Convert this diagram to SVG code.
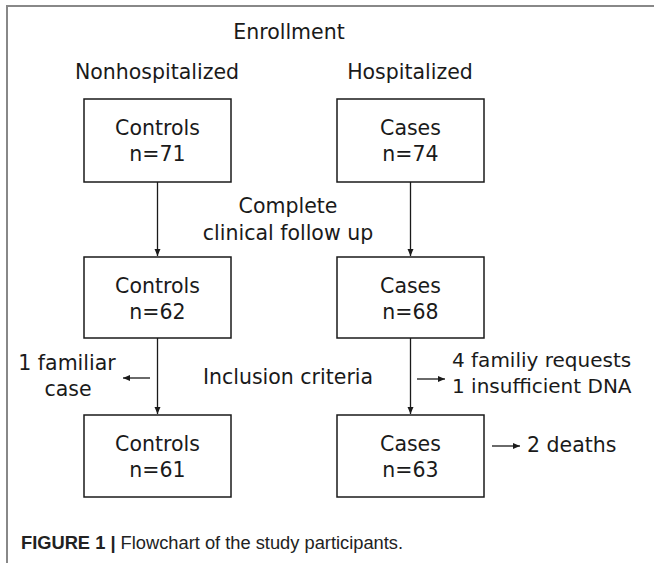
<svg xmlns="http://www.w3.org/2000/svg" width="654" height="563" viewBox="0 0 654 563">
<defs>
<marker id="ah" markerWidth="8" markerHeight="8" refX="7" refY="4" orient="auto" markerUnits="userSpaceOnUse">
<path d="M0,1 L7,4 L0,7 Z" fill="#1a1a1a"/>
</marker>
<style>
.t{font-family:"DejaVu Sans",Verdana,sans-serif;font-size:20.5px;fill:#1a1a1a}
.s{font-size:20px}
.m{text-anchor:middle}
.box{fill:#fff;stroke:#1a1a1a;stroke-width:1.5}
.ln{stroke:#1a1a1a;stroke-width:1.3;fill:none}
.cap{font-family:"Liberation Sans",Arial,sans-serif;font-size:18.3px;fill:#222}
</style>
</defs>
<rect width="654" height="563" fill="#fff"/>
<path d="M7,563 V6 H654" fill="none" stroke="#888" stroke-width="2"/>
<text class="t m" x="289" y="39">Enrollment</text>
<text class="t m" x="157" y="79">Nonhospitalized</text>
<text class="t m" x="410" y="79">Hospitalized</text>
<g id="controls1"><rect class="box" x="84" y="99" width="147" height="83"/><text class="t m" x="157.5" y="135">Controls</text><text class="t m" x="157.5" y="161">n=71</text></g>
<g id="cases1"><rect class="box" x="337" y="99" width="147" height="83"/><text class="t m" x="410.5" y="135">Cases</text><text class="t m" x="410.5" y="161">n=74</text></g>
<g id="controls2"><rect class="box" x="84" y="257" width="147" height="81"/><text class="t m" x="157.5" y="293">Controls</text><text class="t m" x="157.5" y="319">n=62</text></g>
<g id="cases2"><rect class="box" x="337" y="257" width="147" height="81"/><text class="t m" x="410.5" y="293">Cases</text><text class="t m" x="410.5" y="319">n=68</text></g>
<g id="controls3"><rect class="box" x="84" y="415" width="147" height="82"/><text class="t m" x="157.5" y="451">Controls</text><text class="t m" x="157.5" y="477">n=61</text></g>
<g id="cases3"><rect class="box" x="337" y="415" width="147" height="82"/><text class="t m" x="410.5" y="451">Cases</text><text class="t m" x="410.5" y="477">n=63</text></g>
<g id="labels">
<text class="t m" x="288" y="213">Complete</text>
<text class="t m" x="288" y="240">clinical follow up</text>
<text class="t m" x="288" y="384">Inclusion criteria</text>
<text class="t m" x="67" y="370">1 familiar</text>
<text class="t m" x="68" y="396">case</text>
<text class="t s" x="452" y="367">4 familiy requests</text>
<text class="t s" x="452" y="393">1 insufficient DNA</text>
<text class="t" x="527" y="452">2 deaths</text>
</g>
<g id="connectors">
<line class="ln" x1="157.5" y1="182" x2="157.5" y2="256" marker-end="url(#ah)"/>
<line class="ln" x1="410.5" y1="182" x2="410.5" y2="256" marker-end="url(#ah)"/>
<line class="ln" x1="157.5" y1="338" x2="157.5" y2="414" marker-end="url(#ah)"/>
<line class="ln" x1="410.5" y1="338" x2="410.5" y2="414" marker-end="url(#ah)"/>
<line class="ln" x1="150" y1="378" x2="123" y2="378" marker-end="url(#ah)"/>
<line class="ln" x1="417" y1="379" x2="445" y2="379" marker-end="url(#ah)"/>
<line class="ln" x1="492" y1="446" x2="520" y2="446" marker-end="url(#ah)"/>
</g>
<text class="cap" x="21" y="549"><tspan font-weight="bold">FIGURE 1 |</tspan> Flowchart of the study participants.</text>
</svg>
